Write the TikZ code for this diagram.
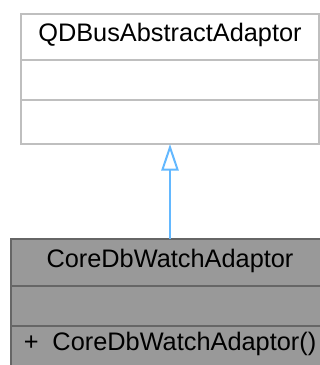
\documentclass[tikz,border=0pt]{standalone}
\usepackage{fontspec}
\setmainfont{Liberation Sans}
\usetikzlibrary{arrows.meta}
\definecolor{bordgris}{HTML}{BFBFBF}
\definecolor{fondgris}{HTML}{999999}
\definecolor{bordfonce}{HTML}{666666}
\definecolor{fleche}{HTML}{63B8FF}
\begin{document}
\begin{tikzpicture}[x=0.75pt, y=-0.75pt,
	classe/.style={draw=bordgris, fill=white, line width=1.4pt, rectangle, minimum width=223.5pt,
		inner sep=0pt, outer sep=0pt, text height=0.716em, text depth=0pt,
		font=\fontsize{19}{23}\selectfont},
	fille/.style={classe, draw=bordfonce, fill=fondgris, minimum width=238.5pt}]
	\useasboundingbox (0,0) rectangle (320,365);
	\node[classe, minimum height=34.5pt, anchor=north] (QA) at (170,14) {QDBusAbstractAdaptor};
	\node[classe, minimum height=30pt, anchor=north] (QAattr) at (QA.south) {};
	\node[classe, minimum height=33pt, anchor=north] (QAops) at (QAattr.south) {};
	
	\node[fille, minimum height=35.25pt, anchor=north] (CW) at (170,239) {CoreDbWatchAdaptor};
	\node[fille, minimum height=30pt, anchor=north] (CWattr) at (CW.south) {};
	\node[fille, minimum height=30pt, anchor=north] (CWops) at (CWattr.south) {+\hspace{0.55em}CoreDbWatchAdaptor()};
	
	\path (CW) edge[-{Triangle[open, length=20pt, width=13pt]}, draw=fleche, line width=1.5pt] (QAops);
	
\end{tikzpicture}
\end{document}
